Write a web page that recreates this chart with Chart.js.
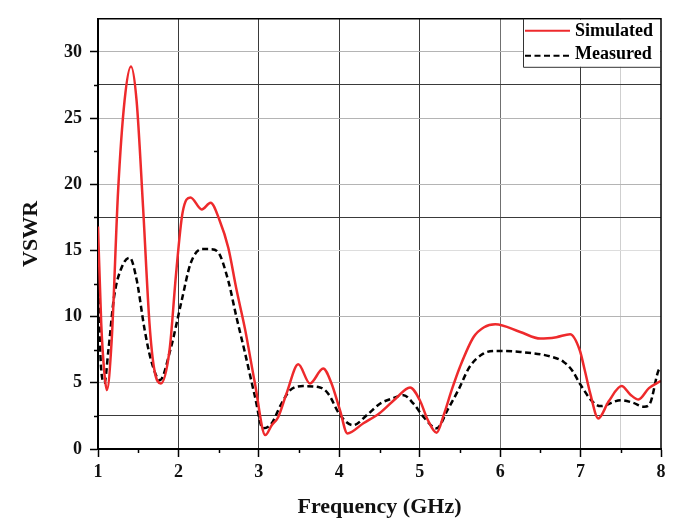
<!DOCTYPE html>
<html>
<head>
<meta charset="utf-8">
<script src="https://cdn.jsdelivr.net/npm/chart.js@4"></script>
<style>
  html, body { margin: 0; padding: 0; background: #fff; }
  #wrap { width: 675px; height: 523px; }
</style>
</head>
<body>
<div id="wrap"><canvas id="chart" width="675" height="523"></canvas></div>
<script>
// Simulated VSWR (GHz, value)
const simFreq = [1.00, 1.04, 1.08, 1.11, 1.17, 1.25, 1.33, 1.41, 1.48, 1.56, 1.64, 1.70, 1.78, 1.89, 1.97, 2.05, 2.15, 2.29, 2.40, 2.51, 2.62, 2.72, 2.83, 2.95, 3.08, 3.16, 3.24, 3.35, 3.49, 3.635, 3.80, 3.90, 4.01, 4.10, 4.30, 4.50, 4.70, 4.88, 5.00, 5.10, 5.21, 5.30, 5.40, 5.50, 5.67, 5.80, 5.94, 6.25, 6.50, 6.70, 6.87, 6.99, 7.05, 7.12, 7.22, 7.35, 7.51, 7.62, 7.72, 7.85, 8.00];
const simVswr = [16.8, 9.5, 5.7, 4.45, 8.2, 19.5, 26.3, 28.9, 26.3, 18.3, 9.5, 6.0, 4.95, 7.5, 13.2, 17.8, 19.0, 18.1, 18.6, 17.3, 15.2, 12.1, 9.0, 5.0, 1.05, 1.8, 2.4, 4.3, 6.4, 4.95, 6.08, 5.0, 2.9, 1.18, 1.95, 2.7, 3.8, 4.65, 3.7, 2.2, 1.23, 2.6, 4.5, 6.2, 8.46, 9.2, 9.42, 8.84, 8.34, 8.45, 8.67, 7.46, 6.0, 4.2, 2.31, 3.6, 4.75, 4.1, 3.74, 4.6, 5.15];

// Measured VSWR
const measFreq = [1.00, 1.02, 1.04, 1.08, 1.13, 1.20, 1.30, 1.395, 1.48, 1.58, 1.66, 1.77, 1.90, 2.04, 2.15, 2.29, 2.40, 2.49, 2.62, 2.72, 2.83, 2.95, 3.05, 3.16, 3.27, 3.39, 3.55, 3.76, 3.86, 4.01, 4.17, 4.35, 4.51, 4.65, 4.80, 4.92, 5.05, 5.21, 5.35, 5.48, 5.62, 5.79, 5.94, 6.25, 6.62, 6.79, 6.90, 6.99, 7.15, 7.25, 7.50, 7.65, 7.79, 7.86, 7.97, 8.00];
const measVswr = [15.0, 9.0, 6.0, 5.0, 7.5, 11.5, 13.8, 14.45, 12.8, 9.0, 6.7, 5.2, 7.5, 11.2, 14.0, 15.1, 15.1, 14.9, 12.7, 10.0, 7.2, 4.0, 1.56, 1.94, 3.3, 4.45, 4.75, 4.65, 4.2, 2.56, 1.8, 2.6, 3.44, 3.8, 4.07, 3.44, 2.4, 1.56, 3.0, 4.45, 6.2, 7.2, 7.41, 7.33, 7.0, 6.58, 5.9, 4.95, 3.57, 3.24, 3.69, 3.5, 3.19, 3.4, 5.95, 6.1];

const seriesNames = ['Simulated', 'Measured'];
const xTicks = [1, 2, 3, 4, 5, 6, 7, 8];
const yTicks = [0, 5, 10, 15, 20, 25, 30];

const serif = '"Liberation Serif", "Times New Roman", serif';
const red = '#ee2a2c';

const toPoints = (xs, ys) => xs.map((x, i) => ({ x: x, y: ys[i] }));

// gridline look, per value (matches the odd pattern of the original figure)
const xGridColor = (v) => {
  if (v === 6) return '#707070';
  if ([2, 3, 4, 5, 7].includes(v)) return '#3a3a3a';
  if (v === 7.5) return '#cfcfcf';
  return 'rgba(0,0,0,0)';
};
const yGridColor = (v) => {
  if ([2.5, 17.5, 27.5].includes(v)) return '#3a3a3a';
  if (v === 15) return '#dddddd';
  if ([5, 10, 20, 25, 30].includes(v)) return '#b4b4b4';
  return 'rgba(0,0,0,0)';
};

const extras = {
  id: 'extras',
  afterDraw(chart) {
    const { ctx, chartArea: a, scales } = chart;
    const x = scales.x, y = scales.y;
    ctx.save();
    // top/right frame
    ctx.strokeStyle = '#000';
    ctx.lineWidth = 1.5;
    ctx.beginPath();
    ctx.moveTo(a.left, a.top);
    ctx.lineTo(a.right, a.top);
    ctx.lineTo(a.right, a.bottom);
    ctx.stroke();

    // minor ticks
    ctx.lineWidth = 1.5;
    ctx.beginPath();
    for (let v = 1.5; v < 8; v += 1) {
      const px = Math.round(x.getPixelForValue(v)) + 0.5;
      ctx.moveTo(px, a.bottom);
      ctx.lineTo(px, a.bottom + 4);
    }
    for (let v = 2.5; v < 32.5; v += 5) {
      const py = Math.round(y.getPixelForValue(v)) + 0.5;
      ctx.moveTo(a.left, py);
      ctx.lineTo(a.left - 4, py);
    }
    ctx.stroke();

    // legend box
    const lx = 523, ly = a.top, lw = a.right - lx, lh = 48;
    ctx.fillStyle = '#fff';
    ctx.fillRect(lx, ly + 1, lw - 1, lh - 1);
    ctx.strokeStyle = '#333';
    ctx.lineWidth = 1;
    ctx.beginPath();
    ctx.moveTo(lx + 0.5, ly);
    ctx.lineTo(lx + 0.5, ly + lh + 0.5);
    ctx.lineTo(a.right, ly + lh + 0.5);
    ctx.stroke();

    ctx.font = 'bold 18px ' + serif;
    ctx.textBaseline = 'middle';
    ctx.textAlign = 'left';
    ctx.fillStyle = '#000';
    chart.data.datasets.forEach((ds, i) => {
      const cy = ly + 12 + i * 23;
      ctx.strokeStyle = ds.borderColor;
      ctx.lineWidth = 2;
      ctx.setLineDash(ds.borderDash || []);
      ctx.beginPath();
      ctx.moveTo(lx + 2, cy + i * 2);
      ctx.lineTo(lx + 47, cy + i * 2);
      ctx.stroke();
      ctx.setLineDash([]);
      ctx.fillText(ds.label, lx + 52, cy + 1);
    });
    ctx.restore();
  }
};

new Chart(document.getElementById('chart'), {
  type: 'line',
  data: {
    datasets: [
      {
        label: seriesNames[0],
        data: toPoints(simFreq, simVswr),
        borderColor: red,
        borderWidth: 2.5,
        pointRadius: 0,
        cubicInterpolationMode: 'monotone',
        fill: false,
      },
      {
        label: seriesNames[1],
        data: toPoints(measFreq, measVswr),
        borderColor: '#000',
        borderWidth: 2.5,
        borderDash: [6, 3.5],
        pointRadius: 0,
        cubicInterpolationMode: 'monotone',
        fill: false,
      },
    ],
  },
  options: {
    responsive: false,
    animation: false,
    layout: { padding: { top: 18, right: 14, left: 0, bottom: 0 } },
    plugins: { legend: { display: false }, tooltip: { enabled: false } },
    scales: {
      x: {
        type: 'linear',
        min: 1,
        max: 8,
        afterFit: (s) => { s.height = 74; },
        afterBuildTicks: (s) => {
          const t = [];
          for (let v = 1; v <= 8.001; v += 0.5) t.push({ value: Math.round(v * 2) / 2 });
          s.ticks = t;
        },
        ticks: {
          autoSkip: false,
          maxRotation: 0,
          padding: 5,
          color: '#111',
          font: { family: serif, size: 18, weight: 'bold' },
          callback: (v) => (xTicks.includes(v) ? String(v) : ''),
        },
        grid: {
          color: (c) => xGridColor(c.tick.value),
          lineWidth: 1,
          tickLength: 8,
          tickWidth: 1.5,
          tickColor: (c) => (xTicks.includes(c.tick.value) ? '#000' : 'rgba(0,0,0,0)'),
        },
        border: { display: true, color: '#000', width: 2 },
        title: {
          display: true,
          text: 'Frequency (GHz)',
          color: '#111',
          font: { family: serif, size: 22, weight: 'bold' },
          padding: { top: 0, bottom: 2 },
        },
      },
      y: {
        type: 'linear',
        min: 0,
        max: 32.5,
        afterFit: (s) => { s.width = 98; },
        afterBuildTicks: (s) => {
          const t = [];
          for (let v = 0; v <= 32.5; v += 2.5) t.push({ value: v });
          s.ticks = t;
        },
        ticks: {
          autoSkip: false,
          padding: 8,
          color: '#111',
          font: { family: serif, size: 18, weight: 'bold' },
          callback: (v) => (yTicks.includes(v) ? String(v) : ''),
        },
        grid: {
          color: (c) => yGridColor(c.tick.value),
          lineWidth: 1,
          tickLength: 8,
          tickWidth: 1.5,
          tickColor: (c) => (yTicks.includes(c.tick.value) ? '#000' : 'rgba(0,0,0,0)'),
        },
        border: { display: true, color: '#000', width: 2 },
        title: {
          display: true,
          text: 'VSWR',
          color: '#111',
          font: { family: serif, size: 22, weight: 'bold' },
          padding: { top: 18, bottom: 0 },
        },
      },
    },
  },
  plugins: [extras],
});
</script>
</body>
</html>
